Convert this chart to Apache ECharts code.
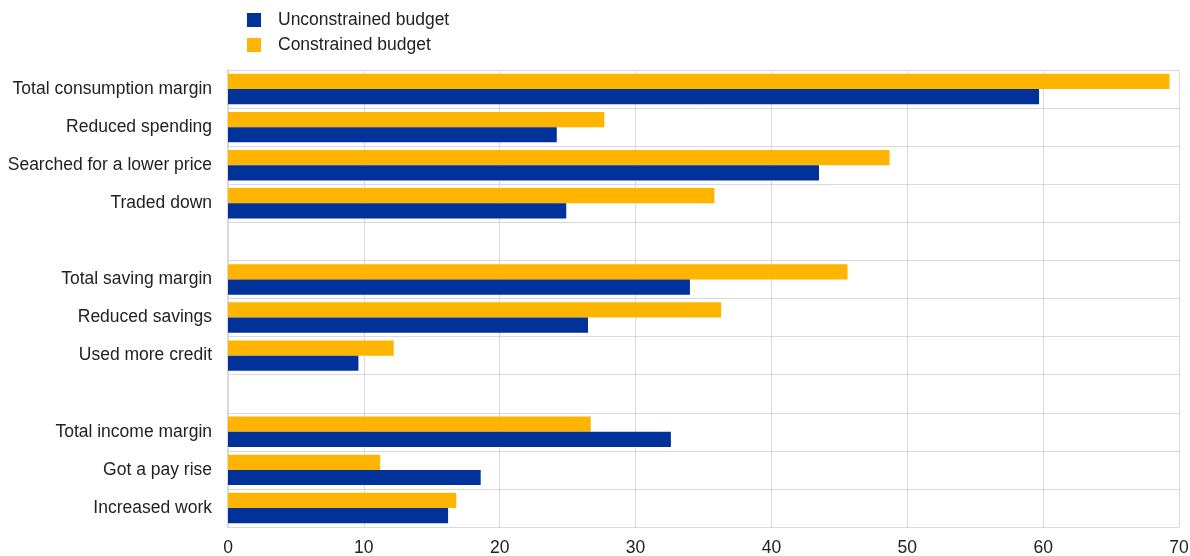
<!DOCTYPE html>
<html><head><meta charset="utf-8">
<script src="https://cdn.jsdelivr.net/npm/echarts@6/dist/echarts.min.js"></script>
<style>html,body{margin:0;padding:0;background:#fff}#c{width:1190px;height:556px}</style>
</head><body><div id="c"></div>
<script>
const categories = ["Total consumption margin","Reduced spending","Searched for a lower price","Traded down","","Total saving margin","Reduced savings","Used more credit"," ","Total income margin","Got a pay rise","Increased work"];
const unconstrained = [59.7, 24.2, 43.5, 24.9, null, 34.0, 26.5, 9.6, null, 32.6, 18.6, 16.2];
const constrained = [69.3, 27.7, 48.7, 35.8, null, 45.6, 36.3, 12.2, null, 26.7, 11.2, 16.8];
const xTicks = [0, 10, 20, 30, 40, 50, 60, 70];

const chart = echarts.init(document.getElementById('c'));
chart.setOption({
  animation: false,
  textStyle: {fontFamily: 'Liberation Sans, Arial, sans-serif'},
  legend: {
    orient: 'vertical', left: 242, top: 6, itemGap: 7,
    itemWidth: 14, itemHeight: 14, icon: 'rect',
    textStyle: {fontSize: 17.5, color: '#222', padding: [0,0,0,12]},
    data: ['Unconstrained budget', 'Constrained budget']
  },
  grid: {left: 228, right: 11, top: 70, bottom: 29, containLabel: false, outerBoundsMode: 'none'},
  xAxis: {
    type: 'value', min: xTicks[0], max: xTicks[xTicks.length-1], interval: 10,
    axisLine: {show: false}, axisTick: {show: false},
    axisLabel: {fontSize: 17.5, color: '#222', margin: 12},
    splitLine: {show: true, lineStyle: {color: '#d9d9d9', width: 1}}
  },
  yAxis: {
    type: 'category', data: categories, inverse: true,
    axisLine: {show: true, lineStyle: {color: '#d9d9d9', width: 2}},
    axisTick: {show: false},
    axisLabel: {fontSize: 17.5, color: '#222', margin: 16},
    splitLine: {show: true, lineStyle: {color: '#d9d9d9', width: 1}}
  },
  series: [
    {name: 'Constrained budget', type: 'bar', data: constrained, barGap: '0%', barCategoryGap: '20%', itemStyle: {color: '#ffb400'}},
    {name: 'Unconstrained budget', type: 'bar', data: unconstrained, barGap: '0%', barCategoryGap: '20%', itemStyle: {color: '#003299'}}
  ]
});
</script></body></html>
